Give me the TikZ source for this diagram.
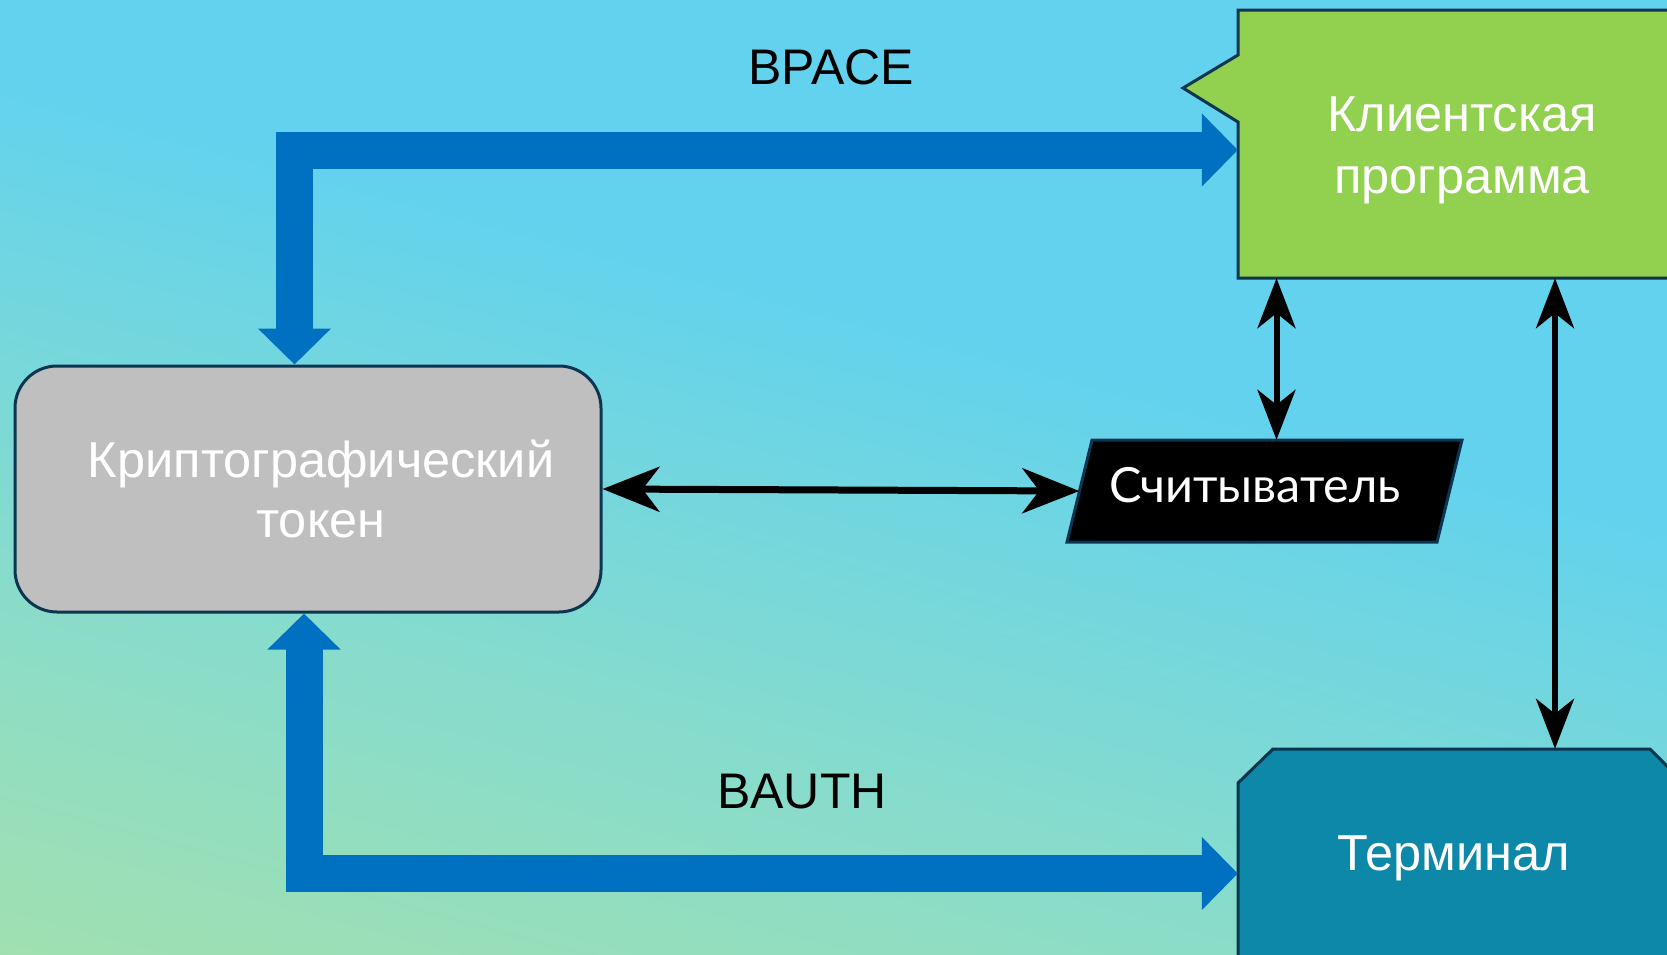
\documentclass[tikz,border=0pt]{standalone}
\usepackage{fontspec}
\setmainfont{Liberation Sans}
\newfontfamily\readerfont{Lato}
\usetikzlibrary{arrows.meta,calc}
\definecolor{bgC}{HTML}{62D2EE}
\definecolor{bgM}{HTML}{88DCCB}
\definecolor{bgG}{HTML}{A8E1A8}
\definecolor{arrowblue}{HTML}{0070C0}
\definecolor{clientgreen}{HTML}{92D050}
\definecolor{termteal}{HTML}{0E88A8}
\definecolor{tokengray}{HTML}{BFBFBF}
\definecolor{edgecol}{HTML}{0B3550}
\pgfdeclareverticalshading{bgshade}{100bp}{color(0bp)=(bgG); color(14bp)=(bgG); color(36bp)=(bgM); color(58bp)=(bgC); color(100bp)=(bgC)}
\begin{document}
\begin{tikzpicture}[x=1pt,y=-1pt,
  bigfont/.style={font=\fontsize{50.5}{62}\selectfont},
  lbl/.style={font=\fontsize{50}{60}\selectfont, text=black, inner sep=0pt},
  boxedge/.style={draw=edgecol, line width=3pt, line join=miter},
  thickblue/.style={draw=arrowblue, line width=37pt,
    arrows={Triangle[length=36pt,width=71pt]-Triangle[length=36pt,width=71pt]}},
  blkh/.style={draw=black, line width=7pt,
    arrows={Stealth[length=57pt,width=45pt,inset=17pt]-Stealth[length=57pt,width=45pt,inset=17pt]}},
  blkv/.style={draw=black, line width=6pt,
    arrows={Stealth[length=50pt,width=38pt,inset=15pt]-Stealth[length=50pt,width=38pt,inset=15pt]}}
]
\useasboundingbox (0,0) rectangle (1667,954);
\clip (0,0) rectangle (1667,954);
\shade[shading=bgshade, shading angle=-15] (0,0) rectangle (1667,954);

% client program shape
\filldraw[fill=clientgreen, boxedge]
  (1238,10) -- (1700,10) -- (1700,278) -- (1238,278) -- (1238,122) -- (1183,88) -- (1238,55) -- cycle;
\node[bigfont, text=white, minimum width=448pt, minimum height=268pt] (client) at (1462,144)
  {\raisebox{-49pt}[0pt][0pt]{\begin{tabular}[b]{@{}c@{}}Клиентская\\программа\end{tabular}}};

% terminal shape
\filldraw[fill=termteal, boxedge]
  (1238,1000) -- (1238,783) -- (1273,749) -- (1650,749) -- (1700,799) -- (1700,1000) -- cycle;
\node[bigfont, text=white, minimum width=432pt, minimum height=204pt] (terminal) at (1454,851)
  {\raisebox{-19pt}[0pt][0pt]{Терминал}};

% token
\node[rectangle, rounded corners=42pt, fill=tokengray, boxedge,
  minimum width=586pt, minimum height=246pt, bigfont, text=white] (token) at (308,489)
  {\hspace*{26pt}\raisebox{-48pt}[0pt][0pt]{\begin{tabular}[b]{@{}c@{}}Криптографический\\[-2pt]токен\end{tabular}}};

% reader shape
\filldraw[fill=black, boxedge] (1067,542) -- (1092,440) -- (1462,440) -- (1437,542) -- cycle;
\node[text=white, minimum width=370pt, minimum height=102pt,
  font=\readerfont\fontsize{48.5}{58}\selectfont] (reader) at (1264.5,491)
  {\hspace*{-19pt}\raisebox{-11pt}[0pt][0pt]{Считыватель}};

% labels
\node[lbl] (bpace) at (831,67.5) {BPACE};
\node[lbl] (bauth) at (802,791.5) {BAUTH};

% blue arrows
\coordinate (topbend) at (294.5,150);
\coordinate (botbend) at (304,873.5);
\draw[thickblue] (token.north -| topbend) |- (client.west |- topbend);
\draw[thickblue] (token.south -| botbend) |- (terminal.west |- botbend);

% black arrows
\coordinate (rx1) at (1276.5,0);
\coordinate (rx2) at (1555,0);
\draw[blkh] (token.east) -- (reader.west);
\draw[blkv] (client.south -| rx1) -- (reader.north -| rx1);
\draw[blkv] (client.south -| rx2) -- (terminal.north -| rx2);
\end{tikzpicture}
\end{document}
